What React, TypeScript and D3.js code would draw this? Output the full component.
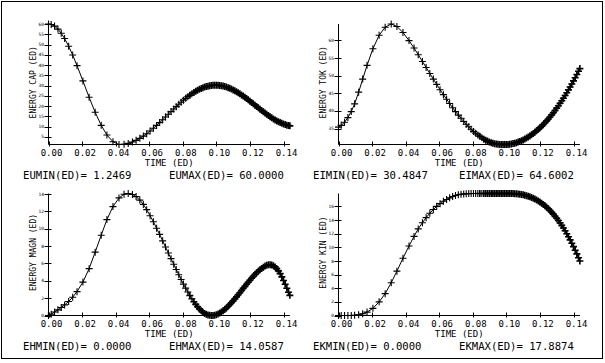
import { useEffect, useRef } from "react";
import * as d3 from "d3";

// time steps of the run (shared by all four plots)
const times = [
  0, 0.0016, 0.0036, 0.0056, 0.0076, 0.0096, 0.012, 0.0144, 0.017, 0.0205,
  0.0242, 0.0278, 0.0314, 0.0348, 0.0384, 0.042, 0.045, 0.0475, 0.05, 0.0522,
  0.0544, 0.0565, 0.0585, 0.0605, 0.0625, 0.0644, 0.0662, 0.068, 0.0697, 0.0714,
  0.073, 0.0746, 0.0761, 0.0776, 0.079, 0.0804, 0.0817, 0.083, 0.0842, 0.0854,
  0.0866, 0.0877, 0.0888, 0.0899,
  0.091, 0.092, 0.093, 0.094, 0.095, 0.096, 0.097, 0.098, 0.099, 0.1,
  0.101, 0.102, 0.103, 0.104, 0.105, 0.106, 0.107, 0.108, 0.109, 0.11,
  0.111, 0.112, 0.113, 0.114, 0.115, 0.116, 0.117, 0.118, 0.119, 0.12,
  0.121, 0.122, 0.123, 0.124, 0.125, 0.126, 0.127, 0.128, 0.129, 0.13,
  0.131, 0.132, 0.133, 0.134, 0.135, 0.136, 0.137, 0.138, 0.139, 0.14,
  0.141, 0.142, 0.143, 0.1438,
];

const energyCap = [
  60.0, 59.79, 58.97, 57.52, 55.48, 52.91, 49.18, 44.87, 39.7, 32.25,
  24.27, 16.95, 10.59, 5.87, 2.61, 1.26, 1.39, 1.79, 2.47, 3.27,
  4.25, 5.34, 6.51, 7.8, 9.18, 10.55, 11.92, 13.33, 14.67, 16.02,
  17.29, 18.55, 19.71, 20.84, 21.88, 22.86, 23.74, 24.57, 25.3, 26.0,
  26.66, 27.21, 27.72, 28.18,
  28.6, 28.94, 29.24, 29.48, 29.7, 29.88, 30.01, 30.1, 30.14, 30.14,
  30.1, 30.02, 29.89, 29.72, 29.51, 29.25, 28.96, 28.63, 28.27, 27.87,
  27.44, 26.97, 26.48, 25.95, 25.41, 24.84, 24.24, 23.64, 23.02, 22.38,
  21.74, 21.09, 20.43, 19.77, 19.11, 18.46, 17.82, 17.18, 16.56, 15.96,
  15.36, 14.79, 14.25, 13.72, 13.23, 12.76, 12.33, 11.93, 11.57, 11.24,
  10.95, 10.69, 10.48, 10.34,
];

const energyTok = [
  35.4, 35.9, 36.8, 38.1, 39.8, 42.0, 45.3, 49.0, 52.9, 57.6,
  61.4, 63.7, 64.6, 63.9, 62.2, 59.9, 57.8, 55.9, 54.0, 52.3,
  50.6, 49.0, 47.5, 46.0, 44.6, 43.3, 42.1, 40.9, 39.8, 38.8,
  37.9, 37.0, 36.2, 35.5, 34.8, 34.2, 33.7, 33.2, 32.8, 32.4,
  32.0, 31.7, 31.45, 31.2,
  31.0, 30.85, 30.73, 30.64, 30.57, 30.52, 30.5, 30.49, 30.48, 30.49,
  30.52, 30.58, 30.65, 30.75, 30.87, 31.01, 31.17, 31.35, 31.55, 31.78,
  32.02, 32.29, 32.58, 32.89, 33.22, 33.58, 33.95, 34.35, 34.77, 35.2,
  35.67, 36.15, 36.65, 37.18, 37.72, 38.29, 38.88, 39.49, 40.12, 40.77,
  41.45, 42.15, 42.86, 43.6, 44.36, 45.14, 45.95, 46.77, 47.62, 48.49,
  49.38, 50.29, 51.22, 51.98,
];

const energyMagn = [
  0.0, 0.15, 0.4, 0.65, 0.92, 1.22, 1.62, 2.1, 2.75, 3.85,
  5.4, 7.3, 9.25, 11.05, 12.55, 13.55, 13.98, 14.06, 13.95, 13.7,
  13.3, 12.8, 12.2, 11.5, 10.8, 10.05, 9.35, 8.6, 7.9, 7.2,
  6.55, 5.9, 5.3, 4.7, 4.15, 3.62, 3.15, 2.7, 2.3, 1.92,
  1.58, 1.28, 1.0, 0.76,
  0.55, 0.38, 0.24, 0.13, 0.06, 0.02, 0.0, 0.01, 0.04, 0.1,
  0.18, 0.28, 0.4, 0.54, 0.7, 0.87, 1.06, 1.26, 1.47, 1.69,
  1.92, 2.15, 2.39, 2.63, 2.88, 3.12, 3.36, 3.6, 3.84, 4.07,
  4.3, 4.51, 4.72, 4.92, 5.1, 5.27, 5.43, 5.57, 5.69, 5.78,
  5.84, 5.86, 5.83, 5.74, 5.6, 5.4, 5.14, 4.82, 4.45, 4.04,
  3.6, 3.14, 2.68, 2.32,
];

const energyKin = [
  0.0, 0.0, 0.0, 0.0, 0.01, 0.03, 0.1, 0.25, 0.5, 1.05,
  2.0, 3.2, 4.8, 6.5, 8.4, 10.2, 11.6, 12.7, 13.6, 14.35,
  15.0, 15.55, 16.0, 16.4, 16.75, 17.0, 17.25, 17.45, 17.6, 17.7,
  17.77, 17.82, 17.85, 17.87, 17.88, 17.887, 17.887, 17.887, 17.887, 17.887,
  17.887, 17.887, 17.887, 17.887,
  17.887, 17.887, 17.887, 17.887, 17.887, 17.887, 17.887, 17.887, 17.887, 17.887,
  17.887, 17.88, 17.88, 17.87, 17.86, 17.84, 17.81, 17.78, 17.74, 17.69,
  17.63, 17.57, 17.49, 17.41, 17.31, 17.2, 17.08, 16.95, 16.8, 16.64,
  16.47, 16.29, 16.09, 15.87, 15.65, 15.4, 15.14, 14.86, 14.56, 14.25,
  13.92, 13.58, 13.21, 12.82, 12.42, 11.99, 11.55, 11.09, 10.6, 10.1,
  9.57, 9.03, 8.46, 7.99,
];

const timeTicks = [0, 0.02, 0.04, 0.06, 0.08, 0.1, 0.12, 0.14];

const yLabels = ["ENERGY CAP (ED)", "ENERGY TOK (ED)", "ENERGY MAGN (ED)", "ENERGY KIN (ED)"];
const minTexts = ["EUMIN(ED)= 1.2469", "EIMIN(ED)= 30.4847", "EHMIN(ED)= 0.0000", "EKMIN(ED)= 0.0000"];
const maxTexts = ["EUMAX(ED)= 60.0000", "EIMAX(ED)= 64.6002", "EHMAX(ED)= 14.0587", "EKMAX(ED)= 17.8874"];
const yDomains = [
  [1.2469, 60],
  [30.4847, 64.6002],
  [0, 14.0587],
  [0, 17.8874],
];
const yTickValues = [
  [5, 10, 15, 20, 25, 30, 35, 40, 45, 50, 55, 60],
  [35, 40, 45, 50, 55, 60],
  [0, 2, 4, 6, 8, 10, 12, 14],
  [0, 2, 4, 6, 8, 10, 12, 14, 16],
];
const series = [energyCap, energyTok, energyMagn, energyKin];

export default function App() {
  const ref = useRef<SVGSVGElement>(null);

  useEffect(() => {
    if (!ref.current) return;
    const svg = d3.select(ref.current);
    svg.selectAll("*").remove();

    const font = "'DejaVu Sans Mono', monospace";

    // outer frame
    svg
      .append("rect")
      .attr("x", 1.5)
      .attr("y", 1.5)
      .attr("width", 601)
      .attr("height", 357)
      .attr("fill", "#fff")
      .attr("stroke", "#000");

    // plot origins (px) and plot heights
    const frames = [
      { ox: 48.5, oy: 144.5, h: 120.5 },
      { ox: 338.5, oy: 144.5, h: 120.5 },
      { ox: 48.5, oy: 315.5, h: 122 },
      { ox: 338.5, oy: 315.5, h: 122 },
    ];

    frames.forEach((f, i) => {
      const g = svg.append("g");
      const x = d3.scaleLinear().domain([0, 0.14]).range([f.ox, f.ox + 235]);
      const y = d3
        .scaleLinear()
        .domain(yDomains[i])
        .range([f.oy, f.oy - f.h]);

      // axis lines
      g.append("line")
        .attr("x1", f.ox)
        .attr("x2", x(times[times.length - 1]))
        .attr("y1", f.oy)
        .attr("y2", f.oy)
        .attr("stroke", "#000");
      g.append("line")
        .attr("x1", f.ox)
        .attr("x2", f.ox)
        .attr("y1", f.oy)
        .attr("y2", y(yDomains[i][1]))
        .attr("stroke", "#000");

      // x ticks
      g.selectAll(".xt")
        .data(timeTicks)
        .join("line")
        .attr("x1", (d) => Math.round(x(d)) + 0.5)
        .attr("x2", (d) => Math.round(x(d)) + 0.5)
        .attr("y1", f.oy - 3)
        .attr("y2", f.oy + 2)
        .attr("stroke", "#000");
      g.selectAll(".xl")
        .data(timeTicks)
        .join("text")
        .attr("x", (d) => x(d) + 3)
        .attr("y", f.oy + 11.8)
        .attr("text-anchor", "middle")
        .style("font-family", font)
        .style("font-size", "9px")
        .text((d) => d3.format(".2f")(d));

      // y ticks
      g.selectAll(".yt")
        .data(yTickValues[i])
        .join("line")
        .attr("x1", f.ox - 4)
        .attr("x2", f.ox + 3)
        .attr("y1", (d) => Math.round(y(d)) + 0.5)
        .attr("y2", (d) => Math.round(y(d)) + 0.5)
        .attr("stroke", "#000");
      g.selectAll(".yl")
        .data(yTickValues[i])
        .join("text")
        .attr("x", f.ox - 4.5)
        .attr("y", (d) => y(d) + 1.6)
        .attr("text-anchor", "end")
        .style("font-family", font)
        .style("font-size", "4.5px")
        .text((d) => String(d));

      // axis titles
      g.append("text")
        .attr("transform", `translate(${f.ox - 13},${f.oy - f.h / 2 - 2}) rotate(-90)`)
        .attr("text-anchor", "middle")
        .style("font-family", font)
        .style("font-size", "8px")
        .text(yLabels[i]);
      g.append("text")
        .attr("x", (f.ox + x(times[times.length - 1])) / 2)
        .attr("y", f.oy + 21)
        .attr("text-anchor", "middle")
        .style("font-family", font)
        .style("font-size", "9px")
        .text("TIME (ED)");

      // min / max readouts
      g.append("text")
        .attr("x", f.ox - 25.5)
        .attr("y", f.oy + 34)
        .style("font-family", font)
        .style("font-size", "10.6px")
        .text(minTexts[i]);
      g.append("text")
        .attr("x", f.ox + 120.5)
        .attr("y", f.oy + 34)
        .style("font-family", font)
        .style("font-size", "10.6px")
        .text(maxTexts[i]);

      // curve
      const pts = times.map((t, k) => [t, series[i][k]] as [number, number]);
      const line = d3
        .line<[number, number]>()
        .x((d) => x(d[0]))
        .y((d) => y(d[1]));
      g.append("path")
        .attr("d", line(pts))
        .attr("fill", "none")
        .attr("stroke", "#000")
        .attr("stroke-width", 1);

      // "+" markers: heavier where the time steps get small
      g.selectAll(".mk")
        .data(pts)
        .join("path")
        .attr("d", (d) => {
          const px = x(d[0]);
          const py = y(d[1]);
          return `M${px - 3.5},${py}H${px + 3.5}M${px},${py - 3.5}V${py + 3.5}`;
        })
        .attr("fill", "none")
        .attr("stroke", "#000")
        .attr("stroke-width", (_d, k) => {
          const dt = k > 0 ? times[k] - times[k - 1] : 1;
          return dt < 0.0012 ? 1.6 : 1.1;
        });
    });
  }, []);

  return (
    <svg
      ref={ref}
      width={605}
      height={363}
      style={{ position: "absolute", left: 0, top: 0, background: "#fff" }}
    />
  );
}
